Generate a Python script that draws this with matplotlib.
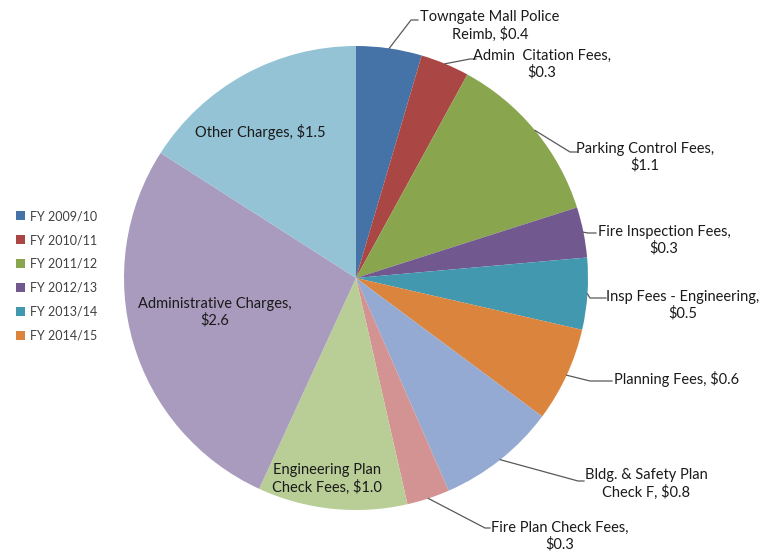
import matplotlib
matplotlib.use("Agg")
import matplotlib.pyplot as plt
from matplotlib.patches import Patch
import numpy as np

W, H = 766, 557

categories = ["Towngate Mall Police Reimb", "Admin Citation Fees", "Parking Control Fees",
              "Fire Inspection Fees", "Insp Fees - Engineering", "Planning Fees",
              "Bldg. & Safety Plan Check F", "Fire Plan Check Fees",
              "Engineering Plan Check Fees", "Administrative Charges", "Other Charges"]
values = [0.43, 0.32, 1.14, 0.33, 0.47, 0.62, 0.78, 0.28, 0.98, 2.56, 1.50]
label_fmt = ["Towngate Mall Police\nReimb, ${:.1f}",
             "Admin  Citation Fees,\n${:.1f}",
             "Parking Control Fees,\n${:.1f}",
             "Fire Inspection Fees,\n${:.1f}",
             "Insp Fees - Engineering,\n${:.1f}",
             "Planning Fees, ${:.1f}",
             "Bldg. & Safety Plan\nCheck F, ${:.1f}",
             "Fire Plan Check Fees,\n${:.1f}",
             "Engineering Plan\nCheck Fees, ${:.1f}",
             "Administrative Charges,\n${:.1f}",
             "Other Charges, ${:.1f}"]
colors = ["#4572A7", "#AA4643", "#89A54E", "#71588F", "#4198AF", "#DB843D",
          "#94AAD2", "#D39392", "#B9CE96", "#A99BBE", "#93C3D5"]
legend_labels = ["FY 2009/10", "FY 2010/11", "FY 2011/12", "FY 2012/13", "FY 2013/14", "FY 2014/15"]

# layout (pixel coords, y from top): text centre, leader path (elbow, end) or None for inside labels
label_pos = [(490, 26), (542, 64), (645, 157), (664, 240), (683, 305), (677, 379),
             (646, 484), (560, 536), (327, 479), (215, 312), (260, 132)]
leader_pts = [[(411, 20), (418, 20)],
              [(470, 59), (476, 59)],
              [(570, 152), (577, 152)],
              [(588, 233), (596, 233)],
              [(590, 298), (606, 298)],
              [(590, 381), (612, 381)],
              [(578, 481), (584, 481)],
              [(485, 528), (490, 528)],
              None, None, None]

cx, cy, R = 356, 278, 232
FONT = ["Lato", "DejaVu Sans"]
TXT = "#1a1a1a"

fig = plt.figure(figsize=(W / 100, H / 100), dpi=100)
ax = fig.add_axes([0, 0, 1, 1])
wedges, _ = ax.pie(values, colors=colors, startangle=90, counterclock=False,
                   center=(cx, H - cy), radius=R, wedgeprops=dict(linewidth=0))
ax.set_xlim(0, W)
ax.set_ylim(0, H)
ax.set_aspect("equal")
ax.axis("off")

for w, fmt, v, pos, lp in zip(wedges, label_fmt, values, label_pos, leader_pts):
    ax.text(pos[0], H - pos[1], fmt.format(v), ha="center", va="center",
            fontsize=10.5, family=FONT, color=TXT, linespacing=1.2)
    if lp is not None:
        mid = np.deg2rad((w.theta1 + w.theta2) / 2)
        ax0 = w.center[0] + w.r * np.cos(mid)
        ay0 = w.center[1] + w.r * np.sin(mid)
        xs = [ax0] + [p[0] for p in lp]
        ys = [ay0] + [H - p[1] for p in lp]
        ax.plot(xs, ys, color="#595959", lw=0.9)

handles = [Patch(facecolor=c, edgecolor="none") for c in colors[:6]]
fig.legend(handles, legend_labels, loc="upper left", bbox_to_anchor=(10 / W, 1 - 204 / H),
           frameon=False, labelspacing=0.95, handlelength=0.7, handleheight=0.7,
           handletextpad=0.4, borderpad=0, prop={"family": FONT, "size": 9},
           labelcolor="#404040")

fig.savefig("out.png", dpi=100)
